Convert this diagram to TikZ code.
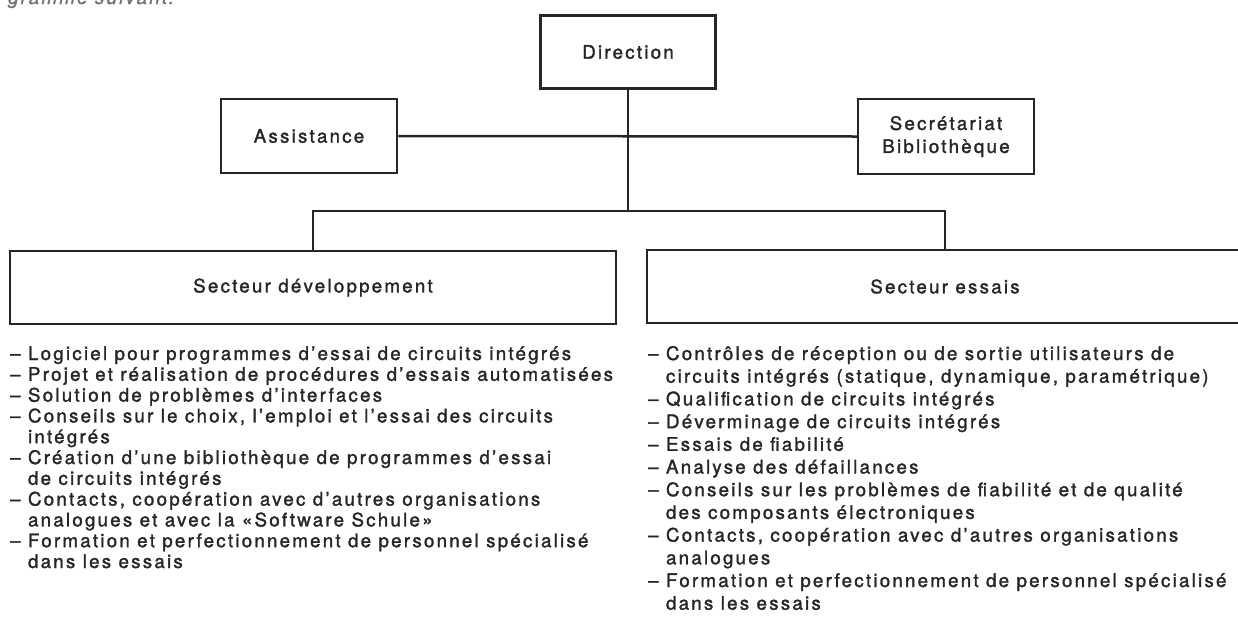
\documentclass[tikz,border=0pt]{standalone}
\usepackage{fontspec}
\setmainfont{TeX Gyre Heros}[LetterSpace=12, FakeBold=1.6]
\definecolor{ink}{gray}{0.15}
\newcommand{\fs}{\fontsize{18.7}{23}\selectfont}
\begin{document}
\begin{tikzpicture}[x=1pt,y=-1pt,
  box/.style={draw=ink, line width=2.5pt, inner sep=0pt, font=\fs, text=ink},
  conn/.style={draw=ink, line width=2.5pt},
  item/.style={anchor=base west, inner sep=0pt, font=\fs, text=ink}]
\useasboundingbox (0,0) rectangle (1238,619);
\node[item, font=\fs\itshape, text=black!55] (cap) at (8,4) {gramme suivant:};
\node[box, minimum width=175pt, minimum height=73pt] (dir) at (628,52) {Direction};
\node[box, minimum width=176pt, minimum height=74pt] (ass) at (309,136) {Assistance};
\node[box, minimum width=176pt, minimum height=75pt, align=center] (sec) at (946,136.5) {Secrétariat\\Bibliothèque};
\node[box, minimum width=606pt, minimum height=73pt] (dev) at (313,287.5) {Secteur développement};
\node[box, minimum width=596pt, minimum height=73pt] (ess) at (945,286.5) {Secteur essais};
\coordinate (hub) at (628,211);
\draw[conn] (dir.south) -- (hub);
\draw[conn] (ass.east) -- (sec.west);
\draw[conn] (dev.north) |- (hub) -| (ess.north);
\foreach \t [count=\i from 0] in {
  {– Logiciel pour programmes d’essai de circuits intégrés},
  {– Projet et réalisation de procédures d’essais automatisées},
  {– Solution de problèmes d’interfaces},
  {– Conseils sur le choix, l’emploi et l’essai des circuits},
  {\phantom{– }intégrés},
  {– Création d’une bibliothèque de programmes d’essai},
  {\phantom{– }de circuits intégrés},
  {– Contacts, coopération avec d’autres organisations},
  {\phantom{– }analogues et avec la «Software Schule»},
  {– Formation et perfectionnement de personnel spécialisé},
  {\phantom{– }dans les essais}}
  \node[item] (l\i) at (10,{360+20.8*\i}) {\t};
\foreach \t [count=\i from 0] in {
  {– Contrôles de réception ou de sortie utilisateurs de},
  {\phantom{– }circuits intégrés (statique, dynamique, paramétrique)},
  {– Qualification de circuits intégrés},
  {– Déverminage de circuits intégrés},
  {– Essais de fiabilité},
  {– Analyse des défaillances},
  {– Conseils sur les problèmes de fiabilité et de qualité},
  {\phantom{– }des composants électroniques},
  {– Contacts, coopération avec d'autres organisations},
  {\phantom{– }analogues},
  {– Formation et perfectionnement de personnel spécialisé},
  {\phantom{– }dans les essais}}
  \node[item] (r\i) at (648,{360+22.7*\i}) {\t};
\end{tikzpicture}
\end{document}
